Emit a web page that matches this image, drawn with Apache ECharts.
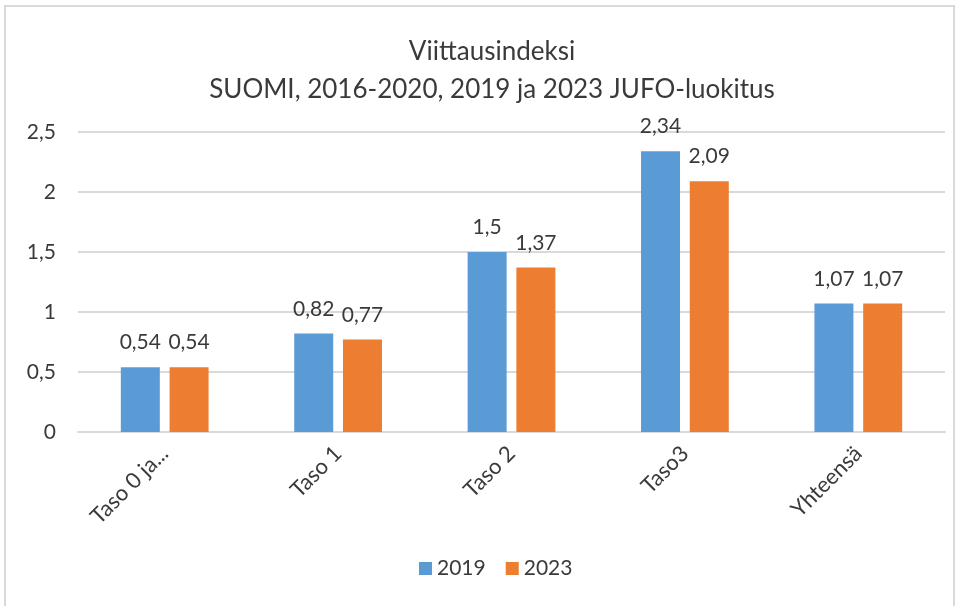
<!DOCTYPE html>
<html>
<head>
<meta charset="utf-8">
<script src="https://cdn.jsdelivr.net/npm/echarts@6/dist/echarts.min.js"></script>
<style>
html, body { margin: 0; padding: 0; background: #fff; }
#frame { position: absolute; left: 4px; top: 5px; width: 951px; height: 610px; border: 2px solid #d9d9d9; box-sizing: border-box; }
#main { width: 963px; height: 606px; }
</style>
</head>
<body>
<div id="frame"></div>
<div id="main"></div>
<script>
var categories = ['Taso 0 ja...', 'Taso 1', 'Taso 2', 'Taso3', 'Yhteensä'];
var values2019 = [0.54, 0.82, 1.5, 2.34, 1.07];
var values2023 = [0.54, 0.77, 1.37, 2.09, 1.07];
var yTicks = [0, 0.5, 1, 1.5, 2, 2.5];

var font = 'Lato, "Open Sans", sans-serif';
function fmt(v) { return String(v).replace('.', ','); }

var myChart = echarts.init(document.getElementById('main'), null, {renderer: 'canvas'});
var option = {
    animation: false,
    title: {
        text: 'Viittausindeksi\nSUOMI, 2016-2020, 2019 ja 2023 JUFO-luokitus',
        left: 487,
        textAlign: 'center',
        top: 28,
        textStyle: { fontFamily: font, fontSize: 26, fontWeight: 'normal', color: '#3a3a3a', lineHeight: 38 }
    },
    legend: {
        bottom: 22,
        left: 414,
        itemWidth: 13,
        itemHeight: 13,
        itemGap: 20,
        icon: 'rect',
        textStyle: { fontFamily: font, fontSize: 21, color: '#3a3a3a' },
        data: ['2019', '2023']
    },
    grid: { left: 78, right: 18, top: 132, bottom: 174 },
    xAxis: {
        type: 'category',
        data: categories,
        axisLine: { lineStyle: { color: '#d9d9d9', width: 2 } },
        axisTick: { show: false },
        axisLabel: { rotate: 45, fontFamily: font, fontSize: 22, color: '#3a3a3a', margin: 18 }
    },
    yAxis: {
        type: 'value',
        min: yTicks[0],
        max: yTicks[yTicks.length - 1],
        interval: 0.5,
        axisLine: { show: false },
        axisTick: { show: false },
        splitLine: { lineStyle: { color: '#d9d9d9', width: 2 } },
        axisLabel: { fontFamily: font, fontSize: 21, color: '#3a3a3a', margin: 22, formatter: fmt }
    },
    series: [{
        name: '2019',
        type: 'bar',
        data: values2019,
        barWidth: 39,
        barGap: '25%',
        itemStyle: { color: '#5b9bd5' },
        label: { show: true, position: 'top', distance: 14, fontFamily: font, fontSize: 21, color: '#3a3a3a', formatter: function(p){ return fmt(p.value); } }
    }, {
        name: '2023',
        type: 'bar',
        data: values2023,
        barWidth: 39,
        itemStyle: { color: '#ed7d31' },
        label: { show: true, position: 'top', distance: 14, fontFamily: font, fontSize: 21, color: '#3a3a3a', formatter: function(p){ return fmt(p.value); } }
    }]
};
myChart.setOption(option);
</script>
</body>
</html>
